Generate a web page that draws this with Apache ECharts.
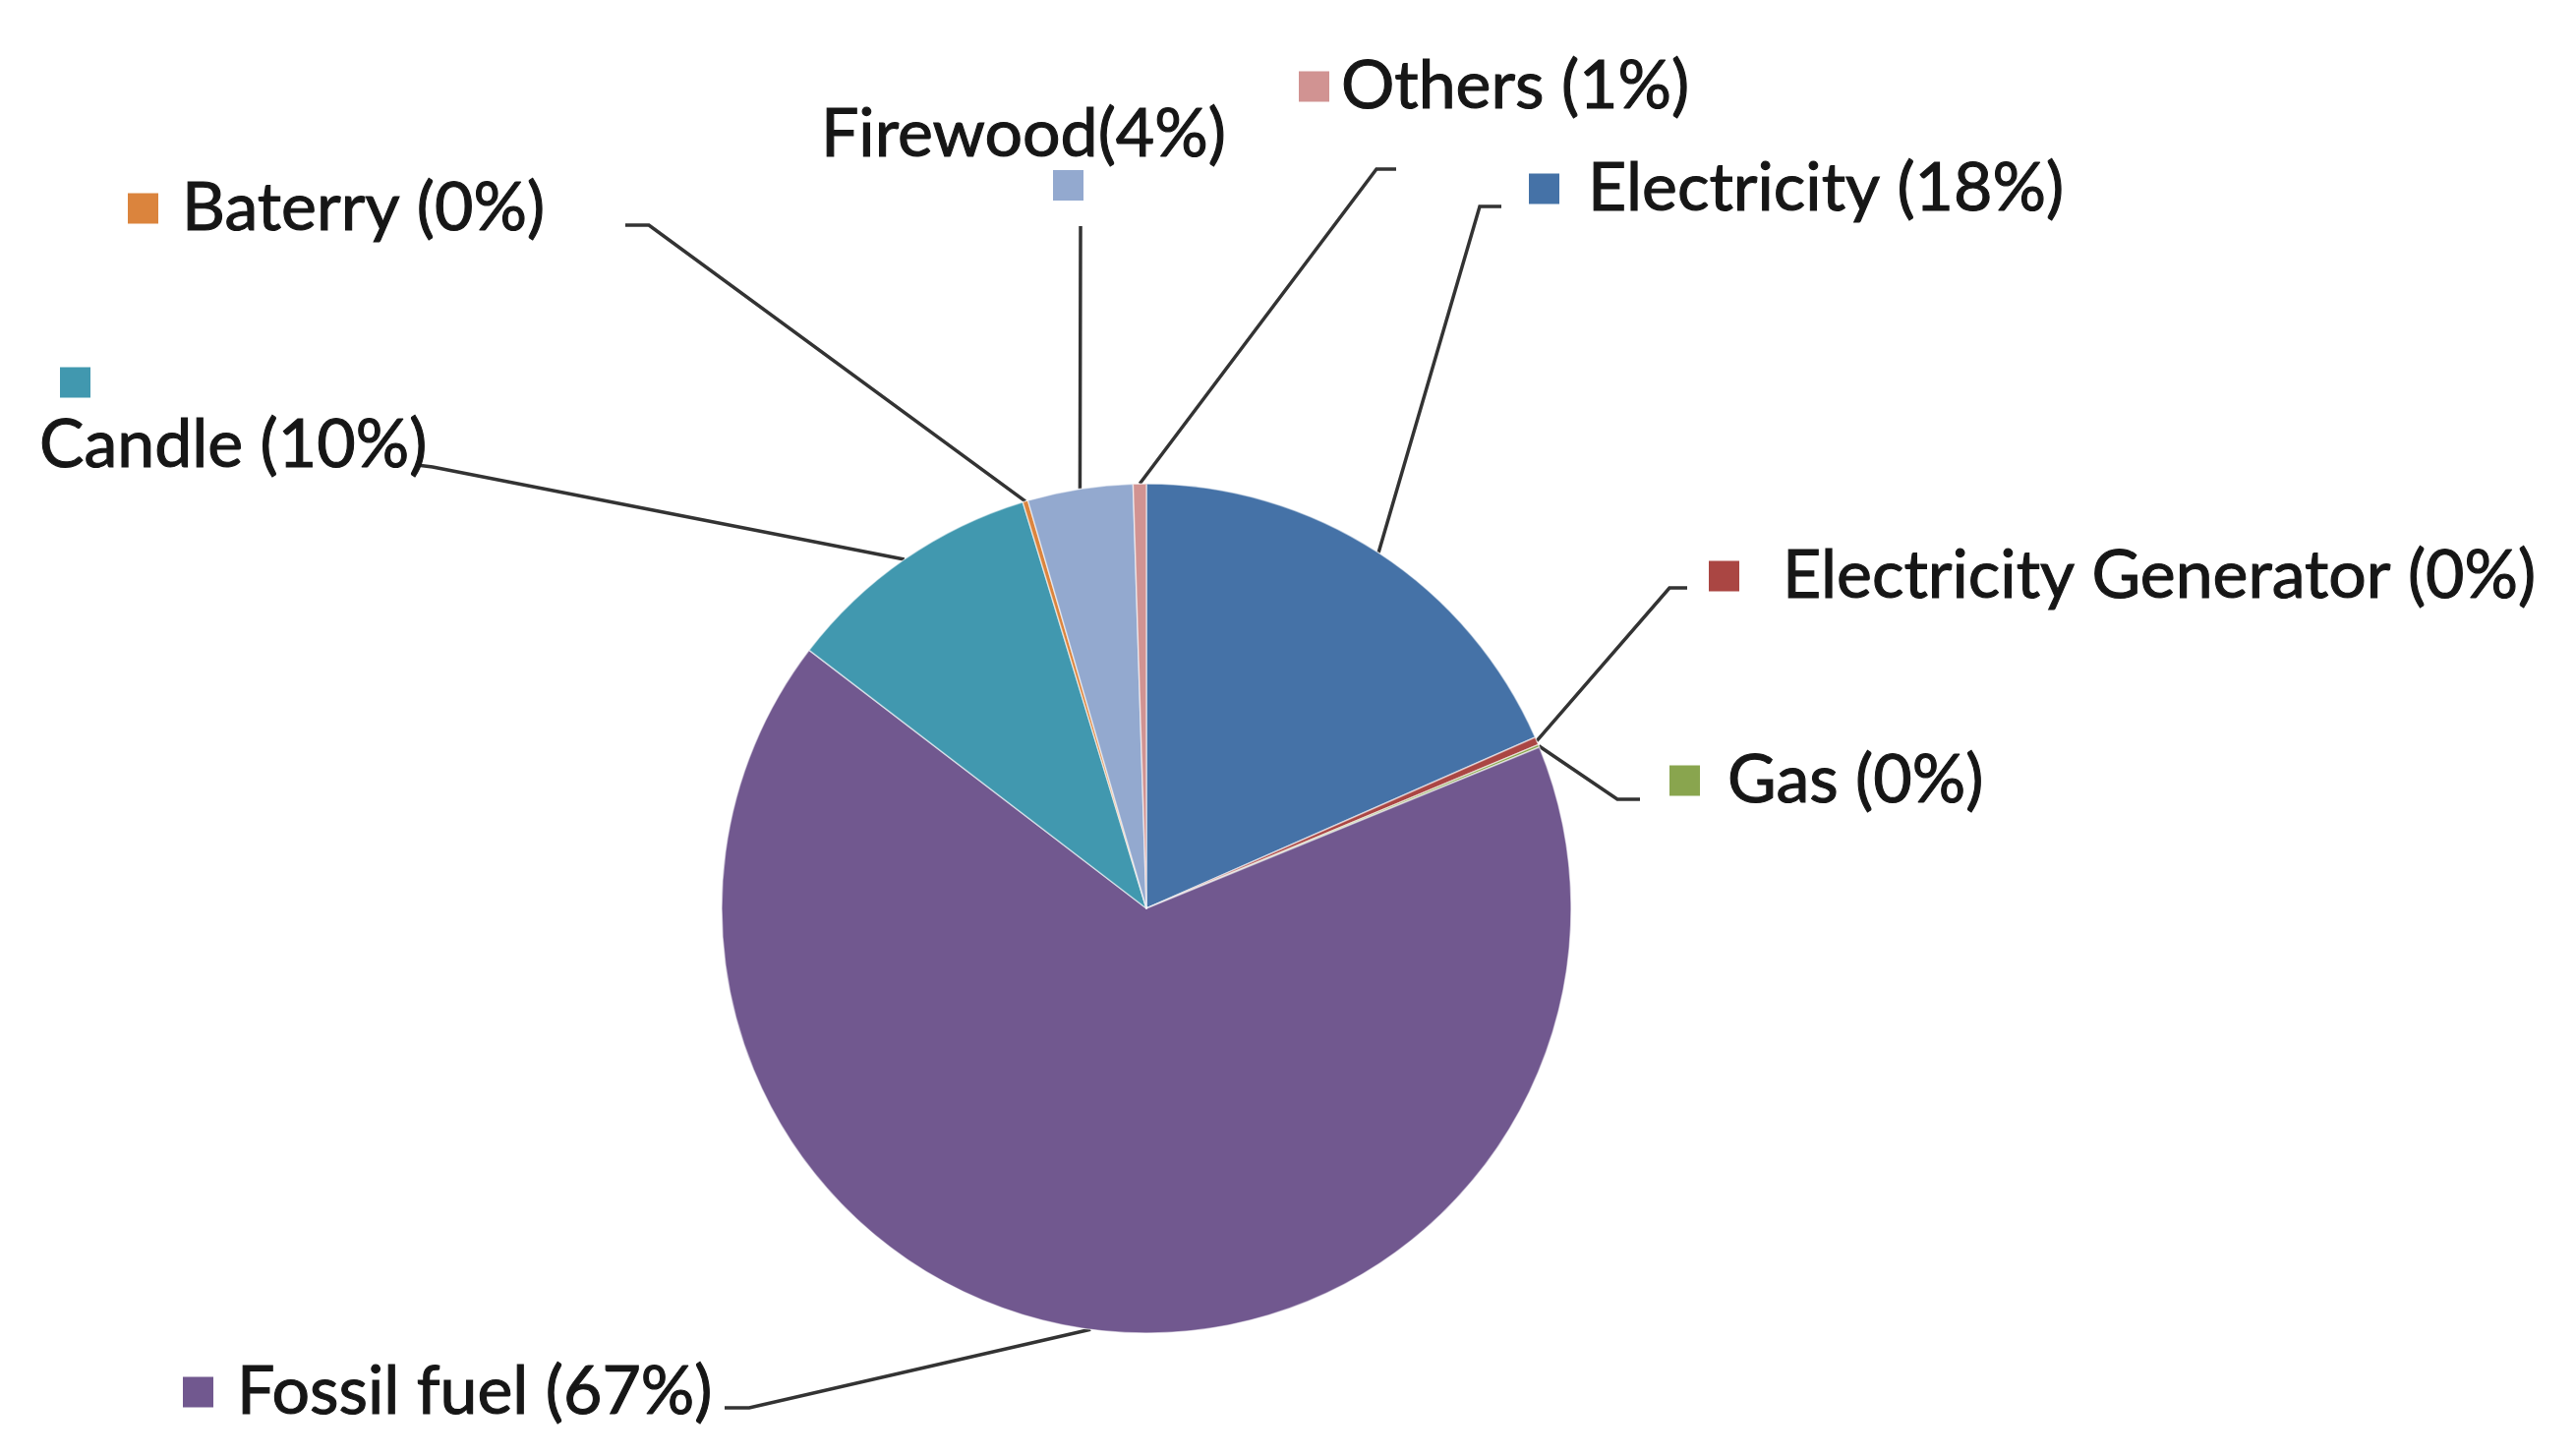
<!DOCTYPE html>
<html>
<head>
<meta charset="utf-8">
<title>Energy sources</title>
<script src="https://cdn.jsdelivr.net/npm/echarts@6/dist/echarts.min.js"></script>
<style>
   html, body { margin: 0; padding: 0; background: #ffffff; }
   #chartArea { width: 2619px; height: 1481px; }
</style>
</head>
<body>
<div id="chartArea"></div>
<script>

// slices, clockwise from 12 o'clock
const sliceNames  = ['Electricity', 'Electricity Generator', 'Gas', 'Fossil fuel', 'Candle', 'Baterry', 'Firewood', 'Others'];
const sliceValues = [18.4, 0.3, 0.1, 66.6, 9.9, 0.2, 4.0, 0.5];
const sliceColors = ['#4572A7', '#AA4643', '#89A54E', '#71588F', '#4198AF', '#DB843D', '#93A9CF', '#D19392'];

// where each label sits (x,y anchor), square-to-text gap, two line layouts
const labelSpots =
[
   { x: 1555, y: 192,  gap: 29 },                       // Electricity
   { x: 1738, y: 586,  gap: 44 },                       // Electricity Generator
   { x: 1698, y: 794,  gap: 28 },                       // Gas
   { x: 186,  y: 1416, gap: 24 },                       // Fossil fuel
   { x: 40,   y: 362,  gap: 0, squareTop: true, pad: 21 }, // Candle
   { x: 130,  y: 212,  gap: 24 },                       // Baterry
   { x: 835,  y: 100,  gap: 0, squareBelow: true, pad: 236 }, // Firewood
   { x: 1321, y: 88,   gap: 12 },                       // Others
];

// leader lines: knee point and end point
const lineKnees =
[
   [[1505, 210], [1527, 210]],
   [[1698, 598], [1716, 598]],
   [[1645, 813], [1668, 813]],
   [[762, 1432], [737, 1432]],
   [[440, 475],  [424, 473]],
   [[660, 229],  [636, 229]],
   [[1099, 232], [1099, 230]],
   [[1400, 172], [1420, 172]],
];

const fontName = 'Lato, "Liberation Sans", sans-serif';
const textSize = 68;
const squareSize = 31;

var chart;


function labelText(i, total)
{
   const pct = Math.round(sliceValues[i] / total * 100);
   const sep = (sliceNames[i] === 'Firewood') ? '' : ' ';
   return sliceNames[i] + sep + '(' + pct + '%)';
}


function buildData()
{
   const total = sliceValues.reduce((a, b) => a + b, 0);
   const data = [];

   for (let i = 0; i < sliceNames.length; i++)
   {
      const spot = labelSpots[i];
      const txt = labelText(i, total);
      var fmt;

      if (spot.squareBelow)
         fmt = '{t|' + txt + '}\n{p|}{sq2|}';
      else if (spot.squareTop)
         fmt = '{p|}{sq3|}\n{t|' + txt + '}';
      else
         fmt = '{sq|}{g|}{t|' + txt + '}';

      data.push(
      {
         name: sliceNames[i],
         value: sliceValues[i],
         itemStyle: { color: sliceColors[i] },
         label:
         {
            formatter: fmt,
            rich:
            {
               t:
               {
                  fontFamily: fontName, fontSize: textSize, color: '#161616', lineHeight: 74,
                  textBorderColor: '#161616', textBorderWidth: 1.1,
               },
               sq:  { width: squareSize, height: squareSize, backgroundColor: sliceColors[i] },
               sq2: { width: squareSize, height: squareSize, lineHeight: squareSize - 2, backgroundColor: sliceColors[i] },
               sq3: { width: squareSize, height: squareSize, lineHeight: 54, backgroundColor: sliceColors[i] },
               g:   { width: spot.gap, height: 10 },
               p:   { width: spot.pad || 0, height: 10 },
            },
         },
      });
   }
   return data;
}


function setupChart()
{
   chart = echarts.init(document.getElementById('chartArea'), null, { renderer: 'canvas' });

   var option =
   {
      animation: false,
      backgroundColor: '#ffffff',
      series:
      [
         {
            type: 'pie',
            center: [1166, 924],
            radius: 432,
            startAngle: 90,
            clockwise: true,
            avoidLabelOverlap: false,
            itemStyle: { borderColor: 'rgba(255,255,255,0.55)', borderWidth: 1.5 },
            label: { show: true, position: 'outside' },
            labelLine:
            {
               show: true,
               smooth: false,
               lineStyle: { color: '#333333', width: 3.5 },
            },
            labelLayout: function (params)
            {
               const i = params.dataIndex;
               const spot = labelSpots[i];
               const pts = params.labelLinePoints;
               const start = pts ? pts[0] : lineKnees[i][0];
               return {
                  x: spot.x,
                  y: spot.y,
                  align: 'left',
                  verticalAlign: (spot.squareBelow || spot.squareTop) ? 'top' : 'middle',
                  labelLinePoints: [start, lineKnees[i][0], lineKnees[i][1]],
               };
            },
            data: buildData(),
         },
      ],
   };

   chart.setOption(option);
}


document.addEventListener('DOMContentLoaded', () =>
{
   setupChart();
});

</script>
</body>
</html>
